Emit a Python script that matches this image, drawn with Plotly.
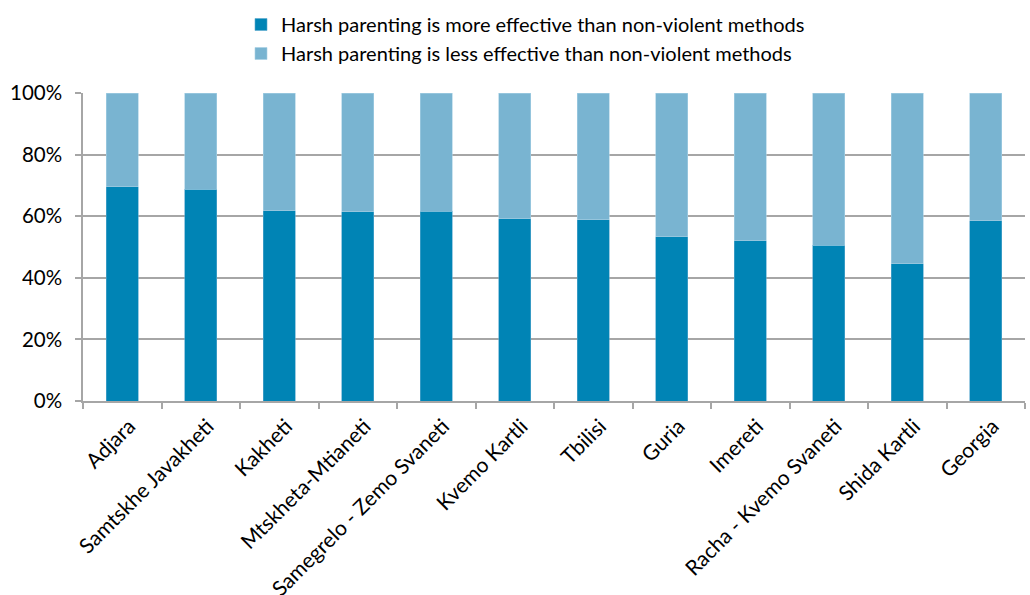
import plotly.graph_objects as go

regions = [
    "Adjara", "Samtskhe Javakheti", "Kakheti", "Mtskheta-Mtianeti",
    "Samegrelo - Zemo Svaneti", "Kvemo Kartli", "Tbilisi", "Guria",
    "Imereti", "Racha - Kvemo Svaneti", "Shida Kartli", "Georgia",
]
more_effective = [69.6, 68.8, 61.8, 61.5, 61.6, 59.1, 58.8, 53.3, 52.0, 50.5, 44.5, 58.6]
less_effective = [round(100 - v, 1) for v in more_effective]

series_names = [
    "Harsh parenting is more effective than non-violent methods",
    "Harsh parenting is less effective than non-violent methods",
]
y_ticks = [0, 20, 40, 60, 80, 100]
y_tick_labels = ["0%", "20%", "40%", "60%", "80%", "100%"]

dark_blue = "#0084b5"
light_blue = "#79b4d1"
grid_grey = "#a6a6a6"
font_family = "Lato, 'Open Sans', sans-serif"

W, H = 1030, 595
M_L, M_R, M_T, M_B = 83, 5, 93, 194
plot_w = W - M_L - M_R
plot_h = H - M_T - M_B

fig = go.Figure()
fig.add_trace(go.Bar(
    x=regions, y=more_effective, name=series_names[0], legendgroup="more",
    marker=dict(color=dark_blue, line=dict(color="#5aa9cf", width=0.6)),
    width=0.41,
))
fig.add_trace(go.Bar(
    x=regions, y=less_effective, name=series_names[1], legendgroup="less",
    marker=dict(color=light_blue, line=dict(color="#a8d0e4", width=0.6)),
    width=0.41,
))

fig.update_layout(
    barmode="stack",
    width=W, height=H,
    margin=dict(l=M_L, r=M_R, t=M_T, b=M_B, autoexpand=False),
    paper_bgcolor="white", plot_bgcolor="white",
    font=dict(family=font_family, size=18, color="#000000"),
    legend=dict(
        orientation="v", traceorder="normal",
        x=(241 - M_L) / plot_w, xanchor="left",
        y=1 + (M_T - 5) / plot_h, yanchor="top",
        font=dict(size=20), tracegroupgap=10,
        bgcolor="rgba(0,0,0,0)",
    ),
    showlegend=True,
)
fig.update_xaxes(
    automargin=False, tickmode="array", tickvals=regions,
    showline=True, linecolor=grid_grey, linewidth=1.5,
    ticks="outside", tickson="boundaries", ticklen=6, tickcolor=grid_grey, tickwidth=1.5,
    tickangle=-45, tickfont=dict(size=21), ticklabelstandoff=3, ticklabelshift=7,
    showgrid=False,
)
fig.update_yaxes(
    automargin=False, range=[0, 100], tickvals=y_ticks, ticktext=y_tick_labels,
    showline=True, linecolor=grid_grey, linewidth=1.5,
    showgrid=True, gridcolor=grid_grey, gridwidth=1.5,
    ticks="outside", ticklen=6, tickcolor=grid_grey, tickwidth=1.5,
    tickfont=dict(size=20.5), ticklabelstandoff=9, zeroline=False,
)

fig.write_html("out.html")
